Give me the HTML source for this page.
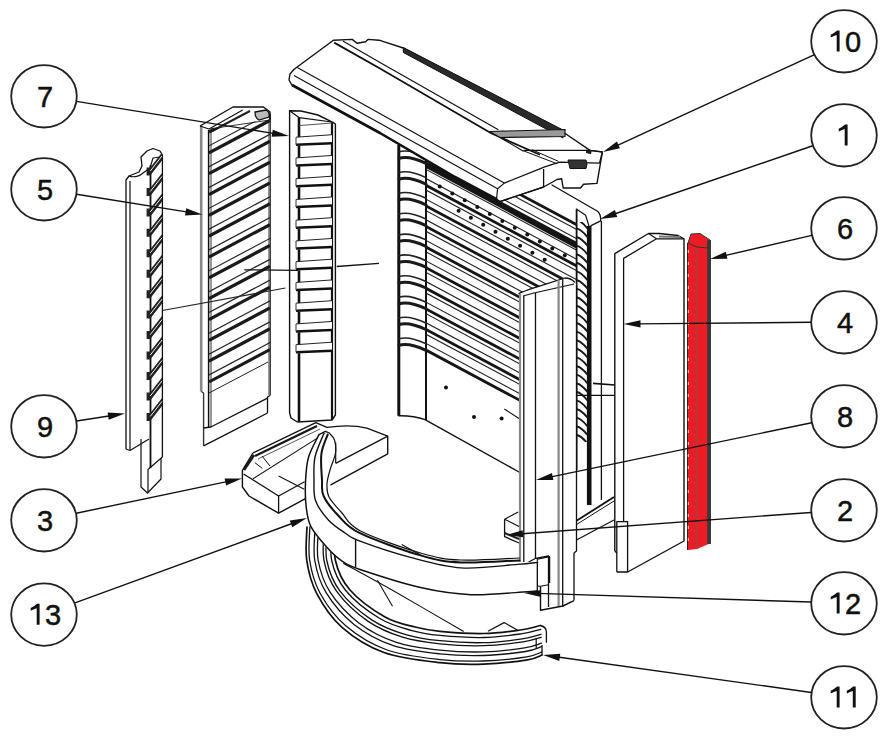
<!DOCTYPE html>
<html><head><meta charset="utf-8"><style>
html,body{margin:0;padding:0;background:#fff;width:892px;height:751px;overflow:hidden}
svg{display:block;font-family:"Liberation Sans",sans-serif}
</style></head><body>
<svg width="892" height="751" viewBox="0 0 892 751">
<polygon points="688,243 691,234 700,233.5 710,240 711,543 697,549 688,550" fill="#ec1c24"/>
<line x1="709.1" y1="240" x2="709.1" y2="544" stroke="#3a3a3a" stroke-width="3.8"/>
<line x1="696.6" y1="247" x2="696.6" y2="549" stroke="#b03a3c" stroke-width="2.2"/>
<line x1="687.5" y1="243" x2="687.5" y2="550" stroke="#222" stroke-width="1.0"/>
<polyline points="688,243 691,234 700,233.5 710,240 708,248 697,247 688,243" fill="none" stroke="#333" stroke-width="1.0" stroke-linejoin="round"/>
<line x1="688.3" y1="250" x2="688.3" y2="548" stroke="#fff" stroke-width="0.8" stroke-dasharray="3,9"/>
<polyline points="614.8,551 614.8,253.6 648.5,233.5 659,233.5 678,235.5 684,238.8 684,541 627.6,572" fill="none" stroke="#111" stroke-width="1.4" stroke-linejoin="round"/>
<polyline points="623.6,521 623.6,258.4 656.5,238.8 684,238.8" fill="none" stroke="#111" stroke-width="1.3" stroke-linejoin="round"/>
<line x1="648.5" y1="233.5" x2="656.5" y2="238.8" stroke="#111" stroke-width="1.2"/>
<line x1="659" y1="236.5" x2="680" y2="237" stroke="#777" stroke-width="1.8"/>
<polyline points="616.8,572 616.8,521.6 627.6,521.6 627.6,572 616.8,572" fill="none" stroke="#111" stroke-width="1.3" stroke-linejoin="round"/>
<line x1="614.8" y1="551" x2="616.8" y2="553" stroke="#111" stroke-width="1.2"/>
<polyline points="126,449 126,180 129,176 139,172 142,166 141,157 147,151 153,148.5 160,151 162.4,155 162.4,457" fill="none" stroke="#111" stroke-width="1.3" stroke-linejoin="round"/>
<line x1="130" y1="181" x2="130" y2="450" stroke="#111" stroke-width="1.2"/>
<polyline points="126,449 130,450.5 149,439" fill="none" stroke="#111" stroke-width="1.2" stroke-linejoin="round"/>
<path d="M129,176 C134,178 140,176 143,173 L150,168 L153,158 L160,157 L162,160" fill="none" stroke="#111" stroke-width="1.1" stroke-linejoin="round" stroke-linecap="round"/>
<line x1="150.5" y1="165" x2="150.5" y2="468" stroke="#111" stroke-width="1.8"/>
<polyline points="141,439 141,487 147.5,493 161,479 161,458" fill="none" stroke="#111" stroke-width="1.2" stroke-linejoin="round"/>
<polyline points="162.4,457 148,469.5 148,493" fill="none" stroke="#111" stroke-width="1.2" stroke-linejoin="round"/>
<polygon points="146.6,175.5 146.6,167.5 150.3,167.5 162,152.5 162,160.5 150.3,175.5" fill="#222"/>
<line x1="150.3" y1="171.0" x2="162" y2="156.0" stroke="#eee" stroke-width="1.0"/>
<polygon points="146.6,195.9 146.6,187.9 150.3,187.9 162,172.9 162,180.9 150.3,195.9" fill="#222"/>
<line x1="150.3" y1="191.45" x2="162" y2="176.45" stroke="#eee" stroke-width="1.0"/>
<polygon points="146.6,216.4 146.6,208.4 150.3,208.4 162,193.4 162,201.4 150.3,216.4" fill="#222"/>
<line x1="150.3" y1="211.9" x2="162" y2="196.9" stroke="#eee" stroke-width="1.0"/>
<polygon points="146.6,236.8 146.6,228.8 150.3,228.8 162,213.8 162,221.8 150.3,236.8" fill="#222"/>
<line x1="150.3" y1="232.35" x2="162" y2="217.35" stroke="#eee" stroke-width="1.0"/>
<polygon points="146.6,257.3 146.6,249.3 150.3,249.3 162,234.3 162,242.3 150.3,257.3" fill="#222"/>
<line x1="150.3" y1="252.8" x2="162" y2="237.8" stroke="#eee" stroke-width="1.0"/>
<polygon points="146.6,277.8 146.6,269.8 150.3,269.8 162,254.8 162,262.8 150.3,277.8" fill="#222"/>
<line x1="150.3" y1="273.25" x2="162" y2="258.25" stroke="#eee" stroke-width="1.0"/>
<polygon points="146.6,298.2 146.6,290.2 150.3,290.2 162,275.2 162,283.2 150.3,298.2" fill="#222"/>
<line x1="150.3" y1="293.7" x2="162" y2="278.7" stroke="#eee" stroke-width="1.0"/>
<polygon points="146.6,318.6 146.6,310.6 150.3,310.6 162,295.6 162,303.6 150.3,318.6" fill="#222"/>
<line x1="150.3" y1="314.15" x2="162" y2="299.15" stroke="#eee" stroke-width="1.0"/>
<polygon points="146.6,339.1 146.6,331.1 150.3,331.1 162,316.1 162,324.1 150.3,339.1" fill="#222"/>
<line x1="150.3" y1="334.6" x2="162" y2="319.6" stroke="#eee" stroke-width="1.0"/>
<polygon points="146.6,359.5 146.6,351.5 150.3,351.5 162,336.5 162,344.5 150.3,359.5" fill="#222"/>
<line x1="150.3" y1="355.04999999999995" x2="162" y2="340.04999999999995" stroke="#eee" stroke-width="1.0"/>
<polygon points="146.6,380.0 146.6,372.0 150.3,372.0 162,357.0 162,365.0 150.3,380.0" fill="#222"/>
<line x1="150.3" y1="375.5" x2="162" y2="360.5" stroke="#eee" stroke-width="1.0"/>
<polygon points="146.6,400.4 146.6,392.4 150.3,392.4 162,377.4 162,385.4 150.3,400.4" fill="#222"/>
<line x1="150.3" y1="395.95" x2="162" y2="380.95" stroke="#eee" stroke-width="1.0"/>
<polygon points="146.6,420.9 146.6,412.9 150.3,412.9 162,397.9 162,405.9 150.3,420.9" fill="#222"/>
<line x1="150.3" y1="416.4" x2="162" y2="401.4" stroke="#eee" stroke-width="1.0"/>
<line x1="201.2" y1="126" x2="201.2" y2="391.5" stroke="#888" stroke-width="2.6"/>
<line x1="208.6" y1="130" x2="208.6" y2="427" stroke="#111" stroke-width="1.5"/>
<line x1="211" y1="131" x2="211" y2="427" stroke="#999" stroke-width="2.0"/>
<line x1="270" y1="114" x2="270" y2="395.5" stroke="#111" stroke-width="1.6"/>
<line x1="268.8" y1="120" x2="268.8" y2="395" stroke="#999" stroke-width="1.6"/>
<polyline points="201.2,391.5 203.6,393 203.6,445.8" fill="none" stroke="#333" stroke-width="1.4" stroke-linejoin="round"/>
<polyline points="270,395.5 267.5,397 267.5,413" fill="none" stroke="#111" stroke-width="1.3" stroke-linejoin="round"/>
<polyline points="203.6,445.8 267.5,413" fill="none" stroke="#111" stroke-width="1.3" stroke-linejoin="round"/>
<polyline points="203.6,428 210.8,427 268,397.9" fill="none" stroke="#111" stroke-width="1.3" stroke-linejoin="round"/>
<polyline points="200,126 233,107 263.5,107 270,112 270,120" fill="none" stroke="#111" stroke-width="1.4" stroke-linejoin="round"/>
<polyline points="200,126 209,129 242.7,110" fill="none" stroke="#111" stroke-width="1.2" stroke-linejoin="round"/>
<polyline points="212,131 250,111" fill="none" stroke="#222" stroke-width="2.0" stroke-linejoin="round"/>
<polyline points="209,129 270,120" fill="none" stroke="#333" stroke-width="1.0" stroke-linejoin="round"/>
<path d="M255,112 L266,110 Q270,112 269,117 L259,120 Q255,118 255,112 Z" fill="#bbb" stroke="#111" stroke-width="1.3"/>
<clipPath id="c5"><polygon points="209,129 270,119 270,395 209,427"/></clipPath><g clip-path="url(#c5)">
<line x1="209" y1="132.0" x2="270" y2="99.6" stroke="#1a1a1a" stroke-width="3.2"/>
<line x1="209" y1="152.82999999999998" x2="270" y2="120.42999999999998" stroke="#1a1a1a" stroke-width="3.2"/>
<line x1="209" y1="145.82999999999998" x2="270" y2="113.42999999999998" stroke="#222" stroke-width="1.2"/>
<line x1="209" y1="173.66" x2="270" y2="141.26" stroke="#1a1a1a" stroke-width="3.2"/>
<line x1="209" y1="166.66" x2="270" y2="134.26" stroke="#222" stroke-width="1.2"/>
<line x1="209" y1="194.49" x2="270" y2="162.09" stroke="#1a1a1a" stroke-width="3.2"/>
<line x1="209" y1="187.49" x2="270" y2="155.09" stroke="#222" stroke-width="1.2"/>
<line x1="209" y1="215.32" x2="270" y2="182.92" stroke="#1a1a1a" stroke-width="3.2"/>
<line x1="209" y1="208.32" x2="270" y2="175.92" stroke="#222" stroke-width="1.2"/>
<line x1="209" y1="236.14999999999998" x2="270" y2="203.74999999999997" stroke="#1a1a1a" stroke-width="3.2"/>
<line x1="209" y1="229.14999999999998" x2="270" y2="196.74999999999997" stroke="#222" stroke-width="1.2"/>
<line x1="209" y1="256.98" x2="270" y2="224.58" stroke="#1a1a1a" stroke-width="3.2"/>
<line x1="209" y1="249.98000000000002" x2="270" y2="217.58" stroke="#222" stroke-width="1.2"/>
<line x1="209" y1="277.81" x2="270" y2="245.41" stroke="#1a1a1a" stroke-width="3.2"/>
<line x1="209" y1="270.81" x2="270" y2="238.41" stroke="#222" stroke-width="1.2"/>
<line x1="209" y1="298.64" x2="270" y2="266.24" stroke="#1a1a1a" stroke-width="3.2"/>
<line x1="209" y1="291.64" x2="270" y2="259.24" stroke="#222" stroke-width="1.2"/>
<line x1="209" y1="319.46999999999997" x2="270" y2="287.07" stroke="#1a1a1a" stroke-width="3.2"/>
<line x1="209" y1="312.46999999999997" x2="270" y2="280.07" stroke="#222" stroke-width="1.2"/>
<line x1="209" y1="340.29999999999995" x2="270" y2="307.9" stroke="#1a1a1a" stroke-width="3.2"/>
<line x1="209" y1="333.29999999999995" x2="270" y2="300.9" stroke="#222" stroke-width="1.2"/>
<line x1="209" y1="361.13" x2="270" y2="328.73" stroke="#1a1a1a" stroke-width="3.2"/>
<line x1="209" y1="354.13" x2="270" y2="321.73" stroke="#222" stroke-width="1.2"/>
<line x1="209" y1="381.96" x2="270" y2="349.56" stroke="#1a1a1a" stroke-width="3.2"/>
<line x1="209" y1="374.96" x2="270" y2="342.56" stroke="#222" stroke-width="1.2"/>
<line x1="209" y1="393" x2="268" y2="362" stroke="#222" stroke-width="1.0"/>
</g>
<polyline points="297.3,422 291,418 289.6,412.7 289.6,110.7 301,111 318,115 332.8,122.4 335.4,124 335.4,415 332,420 297.3,422" fill="none" stroke="#111" stroke-width="1.4" stroke-linejoin="round"/>
<line x1="299" y1="117.6" x2="299" y2="422" stroke="#111" stroke-width="2.6"/>
<line x1="332" y1="122" x2="332" y2="420" stroke="#111" stroke-width="2.2"/>
<polyline points="289.6,110.7 299,117.6 332,122" fill="none" stroke="#111" stroke-width="1.2" stroke-linejoin="round"/>
<line x1="299" y1="125.6" x2="332" y2="123" stroke="#555" stroke-width="1.0"/>
<polygon points="296,137.2 332,134.7 332,143.7 296,145.9" fill="#fff" stroke="none"/>
<line x1="296" y1="137.2" x2="332" y2="134.7" stroke="#222" stroke-width="1.0"/>
<line x1="296" y1="144.7" x2="332" y2="143.2" stroke="#111" stroke-width="2.4"/>
<line x1="296" y1="137.2" x2="296" y2="144.7" stroke="#555" stroke-width="1.2"/>
<polygon points="296,157.9 332,155.4 332,164.4 296,166.6" fill="#fff" stroke="none"/>
<line x1="296" y1="157.95" x2="332" y2="155.45" stroke="#222" stroke-width="1.0"/>
<line x1="296" y1="165.45" x2="332" y2="163.95" stroke="#111" stroke-width="2.4"/>
<line x1="296" y1="157.95" x2="296" y2="165.45" stroke="#555" stroke-width="1.2"/>
<polygon points="296,178.7 332,176.2 332,185.2 296,187.4" fill="#fff" stroke="none"/>
<line x1="296" y1="178.7" x2="332" y2="176.2" stroke="#222" stroke-width="1.0"/>
<line x1="296" y1="186.2" x2="332" y2="184.7" stroke="#111" stroke-width="2.4"/>
<line x1="296" y1="178.7" x2="296" y2="186.2" stroke="#555" stroke-width="1.2"/>
<polygon points="296,199.4 332,196.9 332,205.9 296,208.1" fill="#fff" stroke="none"/>
<line x1="296" y1="199.45" x2="332" y2="196.95" stroke="#222" stroke-width="1.0"/>
<line x1="296" y1="206.95" x2="332" y2="205.45" stroke="#111" stroke-width="2.4"/>
<line x1="296" y1="199.45" x2="296" y2="206.95" stroke="#555" stroke-width="1.2"/>
<polygon points="296,220.2 332,217.7 332,226.7 296,228.9" fill="#fff" stroke="none"/>
<line x1="296" y1="220.2" x2="332" y2="217.7" stroke="#222" stroke-width="1.0"/>
<line x1="296" y1="227.7" x2="332" y2="226.2" stroke="#111" stroke-width="2.4"/>
<line x1="296" y1="220.2" x2="296" y2="227.7" stroke="#555" stroke-width="1.2"/>
<polygon points="296,240.9 332,238.4 332,247.4 296,249.6" fill="#fff" stroke="none"/>
<line x1="296" y1="240.95" x2="332" y2="238.45" stroke="#222" stroke-width="1.0"/>
<line x1="296" y1="248.45" x2="332" y2="246.95" stroke="#111" stroke-width="2.4"/>
<line x1="296" y1="240.95" x2="296" y2="248.45" stroke="#555" stroke-width="1.2"/>
<polygon points="296,261.7 332,259.2 332,268.2 296,270.4" fill="#fff" stroke="none"/>
<line x1="296" y1="261.7" x2="332" y2="259.2" stroke="#222" stroke-width="1.0"/>
<line x1="296" y1="269.2" x2="332" y2="267.7" stroke="#111" stroke-width="2.4"/>
<line x1="296" y1="261.7" x2="296" y2="269.2" stroke="#555" stroke-width="1.2"/>
<polygon points="296,282.4 332,279.9 332,288.9 296,291.1" fill="#fff" stroke="none"/>
<line x1="296" y1="282.45" x2="332" y2="279.95" stroke="#222" stroke-width="1.0"/>
<line x1="296" y1="289.95" x2="332" y2="288.45" stroke="#111" stroke-width="2.4"/>
<line x1="296" y1="282.45" x2="296" y2="289.95" stroke="#555" stroke-width="1.2"/>
<polygon points="296,303.2 332,300.7 332,309.7 296,311.9" fill="#fff" stroke="none"/>
<line x1="296" y1="303.2" x2="332" y2="300.7" stroke="#222" stroke-width="1.0"/>
<line x1="296" y1="310.7" x2="332" y2="309.2" stroke="#111" stroke-width="2.4"/>
<line x1="296" y1="303.2" x2="296" y2="310.7" stroke="#555" stroke-width="1.2"/>
<polygon points="296,323.9 332,321.4 332,330.4 296,332.6" fill="#fff" stroke="none"/>
<line x1="296" y1="323.95" x2="332" y2="321.45" stroke="#222" stroke-width="1.0"/>
<line x1="296" y1="331.45" x2="332" y2="329.95" stroke="#111" stroke-width="2.4"/>
<line x1="296" y1="323.95" x2="296" y2="331.45" stroke="#555" stroke-width="1.2"/>
<polygon points="296,344.7 332,342.2 332,351.2 296,353.4" fill="#fff" stroke="none"/>
<line x1="296" y1="344.7" x2="332" y2="342.2" stroke="#222" stroke-width="1.0"/>
<line x1="296" y1="352.2" x2="332" y2="350.7" stroke="#111" stroke-width="2.4"/>
<line x1="296" y1="344.7" x2="296" y2="352.2" stroke="#555" stroke-width="1.2"/>
<polyline points="398.8,145 398.8,415.7" fill="none" stroke="#111" stroke-width="3.0" stroke-linejoin="round"/>
<path d="M398.8,415.7 Q414,415.5 425,419.7 L519,472" fill="none" stroke="#111" stroke-width="1.4" stroke-linejoin="round" stroke-linecap="round"/>
<line x1="426" y1="160" x2="426" y2="420" stroke="#111" stroke-width="2.0"/>
<path d="M399,137.5 Q409,134.5 426,142.5" fill="none" stroke="#1a1a1a" stroke-width="3.0" stroke-linejoin="round" stroke-linecap="round"/>
<path d="M399,131.0 Q409,128.0 426,136.0" fill="none" stroke="#222" stroke-width="1.6" stroke-linejoin="round" stroke-linecap="round"/>
<path d="M399,158.3 Q409,155.3 426,163.3" fill="none" stroke="#1a1a1a" stroke-width="3.0" stroke-linejoin="round" stroke-linecap="round"/>
<path d="M399,151.8 Q409,148.8 426,156.8" fill="none" stroke="#222" stroke-width="1.6" stroke-linejoin="round" stroke-linecap="round"/>
<path d="M399,179.1 Q409,176.1 426,184.1" fill="none" stroke="#1a1a1a" stroke-width="3.0" stroke-linejoin="round" stroke-linecap="round"/>
<path d="M399,172.6 Q409,169.6 426,177.6" fill="none" stroke="#222" stroke-width="1.6" stroke-linejoin="round" stroke-linecap="round"/>
<path d="M399,199.8 Q409,196.8 426,204.8" fill="none" stroke="#1a1a1a" stroke-width="3.0" stroke-linejoin="round" stroke-linecap="round"/>
<path d="M399,193.3 Q409,190.3 426,198.3" fill="none" stroke="#222" stroke-width="1.6" stroke-linejoin="round" stroke-linecap="round"/>
<path d="M399,220.6 Q409,217.6 426,225.6" fill="none" stroke="#1a1a1a" stroke-width="3.0" stroke-linejoin="round" stroke-linecap="round"/>
<path d="M399,214.1 Q409,211.1 426,219.1" fill="none" stroke="#222" stroke-width="1.6" stroke-linejoin="round" stroke-linecap="round"/>
<path d="M399,241.4 Q409,238.4 426,246.4" fill="none" stroke="#1a1a1a" stroke-width="3.0" stroke-linejoin="round" stroke-linecap="round"/>
<path d="M399,234.9 Q409,231.9 426,239.9" fill="none" stroke="#222" stroke-width="1.6" stroke-linejoin="round" stroke-linecap="round"/>
<path d="M399,262.2 Q409,259.2 426,267.2" fill="none" stroke="#1a1a1a" stroke-width="3.0" stroke-linejoin="round" stroke-linecap="round"/>
<path d="M399,255.7 Q409,252.7 426,260.7" fill="none" stroke="#222" stroke-width="1.6" stroke-linejoin="round" stroke-linecap="round"/>
<path d="M399,283.0 Q409,280.0 426,288.0" fill="none" stroke="#1a1a1a" stroke-width="3.0" stroke-linejoin="round" stroke-linecap="round"/>
<path d="M399,276.5 Q409,273.5 426,281.5" fill="none" stroke="#222" stroke-width="1.6" stroke-linejoin="round" stroke-linecap="round"/>
<path d="M399,303.7 Q409,300.7 426,308.7" fill="none" stroke="#1a1a1a" stroke-width="3.0" stroke-linejoin="round" stroke-linecap="round"/>
<path d="M399,297.2 Q409,294.2 426,302.2" fill="none" stroke="#222" stroke-width="1.6" stroke-linejoin="round" stroke-linecap="round"/>
<path d="M399,324.5 Q409,321.5 426,329.5" fill="none" stroke="#1a1a1a" stroke-width="3.0" stroke-linejoin="round" stroke-linecap="round"/>
<path d="M399,318.0 Q409,315.0 426,323.0" fill="none" stroke="#222" stroke-width="1.6" stroke-linejoin="round" stroke-linecap="round"/>
<path d="M399,345.3 Q409,342.3 426,350.3" fill="none" stroke="#1a1a1a" stroke-width="3.0" stroke-linejoin="round" stroke-linecap="round"/>
<path d="M399,338.8 Q409,335.8 426,343.8" fill="none" stroke="#222" stroke-width="1.6" stroke-linejoin="round" stroke-linecap="round"/>
<clipPath id="cb"><polygon points="426,161 497,199.5 543.6,187 552,185 577,199 577,470 519,440 519,402 426,352.5"/></clipPath><g clip-path="url(#cb)">
<line x1="426" y1="144.1" x2="600" y2="237.19" stroke="#151515" stroke-width="2.8"/>
<line x1="426" y1="148.9" x2="600" y2="241.99" stroke="#222" stroke-width="1.1"/>
<line x1="426" y1="158.0" x2="600" y2="251.09" stroke="#222" stroke-width="1.1"/>
<line x1="426" y1="164.7" x2="600" y2="257.78999999999996" stroke="#151515" stroke-width="6.0"/>
<line x1="426" y1="169.5" x2="600" y2="262.59000000000003" stroke="#222" stroke-width="1.1"/>
<line x1="426" y1="178.6" x2="600" y2="271.69" stroke="#222" stroke-width="1.1"/>
<line x1="426" y1="185.29999999999998" x2="600" y2="278.39" stroke="#151515" stroke-width="2.8"/>
<line x1="426" y1="190.1" x2="600" y2="283.19" stroke="#222" stroke-width="1.1"/>
<line x1="426" y1="199.2" x2="600" y2="292.28999999999996" stroke="#222" stroke-width="1.1"/>
<line x1="426" y1="205.89999999999998" x2="600" y2="298.99" stroke="#151515" stroke-width="2.8"/>
<line x1="426" y1="210.7" x2="600" y2="303.78999999999996" stroke="#222" stroke-width="1.1"/>
<line x1="426" y1="219.79999999999998" x2="600" y2="312.89" stroke="#222" stroke-width="1.1"/>
<line x1="426" y1="226.5" x2="600" y2="319.59000000000003" stroke="#151515" stroke-width="2.8"/>
<line x1="426" y1="231.3" x2="600" y2="324.39" stroke="#222" stroke-width="1.1"/>
<line x1="426" y1="240.4" x2="600" y2="333.49" stroke="#222" stroke-width="1.1"/>
<line x1="426" y1="247.1" x2="600" y2="340.19" stroke="#151515" stroke-width="2.8"/>
<line x1="426" y1="251.9" x2="600" y2="344.99" stroke="#222" stroke-width="1.1"/>
<line x1="426" y1="261.0" x2="600" y2="354.09000000000003" stroke="#222" stroke-width="1.1"/>
<line x1="426" y1="267.7" x2="600" y2="360.78999999999996" stroke="#151515" stroke-width="2.8"/>
<line x1="426" y1="272.5" x2="600" y2="365.59000000000003" stroke="#222" stroke-width="1.1"/>
<line x1="426" y1="281.59999999999997" x2="600" y2="374.68999999999994" stroke="#222" stroke-width="1.1"/>
<line x1="426" y1="288.3" x2="600" y2="381.39" stroke="#151515" stroke-width="2.8"/>
<line x1="426" y1="293.1" x2="600" y2="386.19000000000005" stroke="#222" stroke-width="1.1"/>
<line x1="426" y1="302.2" x2="600" y2="395.28999999999996" stroke="#222" stroke-width="1.1"/>
<line x1="426" y1="308.9" x2="600" y2="401.99" stroke="#151515" stroke-width="2.8"/>
<line x1="426" y1="313.7" x2="600" y2="406.78999999999996" stroke="#222" stroke-width="1.1"/>
<line x1="426" y1="322.79999999999995" x2="600" y2="415.89" stroke="#222" stroke-width="1.1"/>
<line x1="426" y1="329.5" x2="600" y2="422.59000000000003" stroke="#151515" stroke-width="2.8"/>
<line x1="426" y1="334.3" x2="600" y2="427.39" stroke="#222" stroke-width="1.1"/>
<line x1="426" y1="343.4" x2="600" y2="436.49" stroke="#222" stroke-width="1.1"/>
<line x1="426" y1="350.1" x2="600" y2="443.19000000000005" stroke="#151515" stroke-width="2.8"/>
<line x1="426" y1="354.90000000000003" x2="600" y2="447.99" stroke="#222" stroke-width="1.1"/>
<line x1="426" y1="364.0" x2="600" y2="457.09000000000003" stroke="#222" stroke-width="1.1"/>
</g>
<circle cx="439.8" cy="186.5" r="2.0" fill="#111"/>
<circle cx="452.3" cy="193.4" r="2.0" fill="#111"/>
<circle cx="464.8" cy="200.2" r="2.0" fill="#111"/>
<circle cx="477.3" cy="207.1" r="2.0" fill="#111"/>
<circle cx="489.8" cy="214.0" r="2.0" fill="#111"/>
<circle cx="502.3" cy="220.9" r="2.0" fill="#111"/>
<circle cx="514.8" cy="227.7" r="2.0" fill="#111"/>
<circle cx="527.3" cy="234.6" r="2.0" fill="#111"/>
<circle cx="539.8" cy="241.5" r="2.0" fill="#111"/>
<circle cx="552.3" cy="248.4" r="2.0" fill="#111"/>
<circle cx="564.8" cy="255.2" r="2.0" fill="#111"/>
<circle cx="458.6" cy="210.7" r="2.0" fill="#111"/>
<circle cx="470.9" cy="217.7" r="2.0" fill="#111"/>
<circle cx="483.2" cy="224.7" r="2.0" fill="#111"/>
<circle cx="495.5" cy="231.7" r="2.0" fill="#111"/>
<circle cx="507.8" cy="238.7" r="2.0" fill="#111"/>
<circle cx="520.1" cy="245.8" r="2.0" fill="#111"/>
<circle cx="532.4" cy="252.8" r="2.0" fill="#111"/>
<circle cx="544.7" cy="259.8" r="2.0" fill="#111"/>
<circle cx="446" cy="387.4" r="2" fill="#111"/>
<circle cx="474" cy="417" r="2" fill="#111"/>
<circle cx="501.6" cy="418.4" r="2" fill="#111"/>
<line x1="504.3" y1="409" x2="519" y2="418.4" stroke="#111" stroke-width="1.2"/>
<line x1="576.6" y1="209.6" x2="576.6" y2="470" stroke="#111" stroke-width="1.8"/>
<line x1="589.2" y1="226" x2="589.2" y2="505" stroke="#111" stroke-width="4.6"/>
<polyline points="576,208.8 585.6,215.2 589,226" fill="none" stroke="#111" stroke-width="1.2" stroke-linejoin="round"/>
<path d="M552,185 L597.5,211.2 Q601,214 600.7,220.8 L591,225.6" fill="none" stroke="#111" stroke-width="1.3" stroke-linejoin="round" stroke-linecap="round"/>
<line x1="601.4" y1="221" x2="601.4" y2="500" stroke="#111" stroke-width="1.3"/>
<clipPath id="cr"><rect x="577" y="222" width="12" height="220"/></clipPath><g clip-path="url(#cr)">
<path d="M577,220.0 Q582,221.5 587,228.0" fill="none" stroke="#1a1a1a" stroke-width="1.9" stroke-linejoin="round" stroke-linecap="round"/>
<path d="M577,228.6 Q582,230.1 587,236.6" fill="none" stroke="#1a1a1a" stroke-width="1.9" stroke-linejoin="round" stroke-linecap="round"/>
<path d="M577,237.2 Q582,238.7 587,245.2" fill="none" stroke="#1a1a1a" stroke-width="1.9" stroke-linejoin="round" stroke-linecap="round"/>
<path d="M577,245.8 Q582,247.3 587,253.8" fill="none" stroke="#1a1a1a" stroke-width="1.9" stroke-linejoin="round" stroke-linecap="round"/>
<path d="M577,254.4 Q582,255.9 587,262.4" fill="none" stroke="#1a1a1a" stroke-width="1.9" stroke-linejoin="round" stroke-linecap="round"/>
<path d="M577,263.0 Q582,264.5 587,271.0" fill="none" stroke="#1a1a1a" stroke-width="1.9" stroke-linejoin="round" stroke-linecap="round"/>
<path d="M577,271.6 Q582,273.1 587,279.6" fill="none" stroke="#1a1a1a" stroke-width="1.9" stroke-linejoin="round" stroke-linecap="round"/>
<path d="M577,280.2 Q582,281.7 587,288.2" fill="none" stroke="#1a1a1a" stroke-width="1.9" stroke-linejoin="round" stroke-linecap="round"/>
<path d="M577,288.8 Q582,290.3 587,296.8" fill="none" stroke="#1a1a1a" stroke-width="1.9" stroke-linejoin="round" stroke-linecap="round"/>
<path d="M577,297.4 Q582,298.9 587,305.4" fill="none" stroke="#1a1a1a" stroke-width="1.9" stroke-linejoin="round" stroke-linecap="round"/>
<path d="M577,306.0 Q582,307.5 587,314.0" fill="none" stroke="#1a1a1a" stroke-width="1.9" stroke-linejoin="round" stroke-linecap="round"/>
<path d="M577,314.6 Q582,316.1 587,322.6" fill="none" stroke="#1a1a1a" stroke-width="1.9" stroke-linejoin="round" stroke-linecap="round"/>
<path d="M577,323.2 Q582,324.7 587,331.2" fill="none" stroke="#1a1a1a" stroke-width="1.9" stroke-linejoin="round" stroke-linecap="round"/>
<path d="M577,331.8 Q582,333.3 587,339.8" fill="none" stroke="#1a1a1a" stroke-width="1.9" stroke-linejoin="round" stroke-linecap="round"/>
<path d="M577,340.4 Q582,341.9 587,348.4" fill="none" stroke="#1a1a1a" stroke-width="1.9" stroke-linejoin="round" stroke-linecap="round"/>
<path d="M577,349.0 Q582,350.5 587,357.0" fill="none" stroke="#1a1a1a" stroke-width="1.9" stroke-linejoin="round" stroke-linecap="round"/>
<path d="M577,357.6 Q582,359.1 587,365.6" fill="none" stroke="#1a1a1a" stroke-width="1.9" stroke-linejoin="round" stroke-linecap="round"/>
<path d="M577,366.2 Q582,367.7 587,374.2" fill="none" stroke="#1a1a1a" stroke-width="1.9" stroke-linejoin="round" stroke-linecap="round"/>
<path d="M577,374.8 Q582,376.3 587,382.8" fill="none" stroke="#1a1a1a" stroke-width="1.9" stroke-linejoin="round" stroke-linecap="round"/>
<path d="M577,383.4 Q582,384.9 587,391.4" fill="none" stroke="#1a1a1a" stroke-width="1.9" stroke-linejoin="round" stroke-linecap="round"/>
<path d="M577,392.0 Q582,393.5 587,400.0" fill="none" stroke="#1a1a1a" stroke-width="1.9" stroke-linejoin="round" stroke-linecap="round"/>
<path d="M577,400.6 Q582,402.1 587,408.6" fill="none" stroke="#1a1a1a" stroke-width="1.9" stroke-linejoin="round" stroke-linecap="round"/>
<path d="M577,409.2 Q582,410.7 587,417.2" fill="none" stroke="#1a1a1a" stroke-width="1.9" stroke-linejoin="round" stroke-linecap="round"/>
<path d="M577,417.8 Q582,419.3 587,425.8" fill="none" stroke="#1a1a1a" stroke-width="1.9" stroke-linejoin="round" stroke-linecap="round"/>
<path d="M577,426.4 Q582,427.9 587,434.4" fill="none" stroke="#1a1a1a" stroke-width="1.9" stroke-linejoin="round" stroke-linecap="round"/>
<path d="M577,435.0 Q582,436.5 587,443.0" fill="none" stroke="#1a1a1a" stroke-width="1.9" stroke-linejoin="round" stroke-linecap="round"/>
<path d="M577,443.6 Q582,445.1 587,451.6" fill="none" stroke="#1a1a1a" stroke-width="1.9" stroke-linejoin="round" stroke-linecap="round"/>
</g>
<polyline points="593,383.4 615,385" fill="none" stroke="#111" stroke-width="1.6" stroke-linejoin="round"/>
<polyline points="577,395.4 615,395.4" fill="none" stroke="#111" stroke-width="1.2" stroke-linejoin="round"/>
<polygon points="333.4,40.2 352.2,39.4 357,43.3 365.6,41.8 368,39.4 379,40.2 403.3,48 563,132 590,150.4 602.4,152 597,183.4 583.6,184.2 580.5,188 563.2,188 561.6,178.7 557,179.5 543.6,187 499.8,201.6 497,199.5 455,177 380,133 291.8,85 289,80 290,74 294.1,69.2" fill="#fff" stroke="#111" stroke-width="1.4" stroke-linejoin="round"/>
<polyline points="292,85 380,133 455,177 497,199.5" fill="none" stroke="#111" stroke-width="2.6" stroke-linejoin="round"/>
<polyline points="294,75.5 497.6,188.7 496.5,199.3 499.8,201.6" fill="none" stroke="#111" stroke-width="1.2" stroke-linejoin="round"/>
<polyline points="297.3,67.5 504.3,183.1 497.6,188.7" fill="none" stroke="#111" stroke-width="1.2" stroke-linejoin="round"/>
<polyline points="334.2,42.6 380,68.5 491.2,133.3 540,154.8" fill="none" stroke="#111" stroke-width="1.8" stroke-linejoin="round"/>
<polyline points="342.8,41 380,62.4 498.4,129.7" fill="none" stroke="#111" stroke-width="1.2" stroke-linejoin="round"/>
<polygon points="403.3,47.5 563,130 563,138 403.3,52.5" fill="#2a2a2a" stroke="#111" stroke-width="1"/>
<polygon points="489.4,131.5 565,129.5 565,136.5 500,137.5" fill="#999" stroke="#111" stroke-width="1.2"/>
<polyline points="500,137.5 523.5,151.2" fill="none" stroke="#111" stroke-width="1.2" stroke-linejoin="round"/>
<polygon points="586,149.8 591.6,151 591,154.2 586,153" fill="#222"/>
<polyline points="504.3,183.1 544.7,166.8 552.4,164.3 560,162.2 599.5,163.2 602.4,152" fill="none" stroke="#111" stroke-width="1.3" stroke-linejoin="round"/>
<polyline points="499.8,201.6 543.6,187 543.6,169" fill="none" stroke="#111" stroke-width="1.3" stroke-linejoin="round"/>
<polyline points="524,150.4 590,150.4 602.4,152" fill="none" stroke="#111" stroke-width="1.2" stroke-linejoin="round"/>
<polyline points="522.4,150.4 557,163.7" fill="none" stroke="#111" stroke-width="1.0" stroke-linejoin="round"/>
<polyline points="531.8,149.6 558.5,161.4" fill="none" stroke="#111" stroke-width="1.0" stroke-linejoin="round"/>
<path d="M568,160 L586,160 Q588,164 586,168.5 L570,168.5 Z" fill="#333" stroke="#111" stroke-width="1"/>
<polygon points="519,293.4 538,286.7 564.8,278 574.4,282 576.5,285 576.5,551 574,553 574,600.6 562.9,606 540.5,610.2 540.5,586.3 537.3,586 537.3,558.3 523.8,564.7 519.8,564.7" fill="#fff" stroke="none"/>
<path d="M519,293.4 Q530,289 538,286.7 L564.8,278 Q571,278 574.4,282" fill="none" stroke="#111" stroke-width="1.3" stroke-linejoin="round" stroke-linecap="round"/>
<polyline points="523,296 534,293 574,284" fill="none" stroke="#111" stroke-width="1.2" stroke-linejoin="round"/>
<line x1="520" y1="294" x2="520" y2="564.7" stroke="#888" stroke-width="2.2"/>
<line x1="523.8" y1="296" x2="523.8" y2="564.7" stroke="#111" stroke-width="1.3"/>
<line x1="535.5" y1="293" x2="535.5" y2="558.3" stroke="#111" stroke-width="1.3"/>
<line x1="558.6" y1="280" x2="558.6" y2="607" stroke="#888" stroke-width="2.2"/>
<line x1="562.7" y1="279" x2="562.7" y2="607" stroke="#111" stroke-width="1.3"/>
<polyline points="576.5,285 576.5,551 574,553 574,600.6" fill="none" stroke="#111" stroke-width="1.3" stroke-linejoin="round"/>
<polyline points="519.8,564.7 523.8,564.7 535.7,558.3 548.5,556 548.5,607" fill="none" stroke="#111" stroke-width="1.3" stroke-linejoin="round"/>
<line x1="537.3" y1="558.3" x2="537.3" y2="586" stroke="#111" stroke-width="1.1"/>
<polyline points="537.3,586 540.5,586.3 548.5,584.7" fill="none" stroke="#111" stroke-width="1.1" stroke-linejoin="round"/>
<polyline points="540.5,586.3 540.5,610.2 562.9,606 574,600.6" fill="none" stroke="#111" stroke-width="1.4" stroke-linejoin="round"/>
<line x1="576.5" y1="520.8" x2="614" y2="497" stroke="#111" stroke-width="1.8"/>
<line x1="576.5" y1="524.5" x2="614" y2="501" stroke="#111" stroke-width="1.0"/>
<line x1="576.5" y1="540" x2="614" y2="520" stroke="#111" stroke-width="1.3"/>
<polyline points="504.6,519.2 518.2,512" fill="none" stroke="#111" stroke-width="1.2" stroke-linejoin="round"/>
<polyline points="504.6,519.2 504.6,536.7 519,543" fill="none" stroke="#111" stroke-width="1.3" stroke-linejoin="round"/>
<polyline points="504.6,519.2 519,526.4" fill="none" stroke="#111" stroke-width="1.1" stroke-linejoin="round"/>
<polyline points="504.6,533 519,539" fill="none" stroke="#222" stroke-width="2.0" stroke-linejoin="round"/>
<polygon points="242.4,470.3 252.9,453 315.8,422.6 327,427.4 366.9,428.2 387.7,436.2 387.7,453.8 278.6,513.2 249,497 242.4,487" fill="#fff" stroke="none"/>
<polyline points="252.9,453 315.8,422.6" fill="none" stroke="#111" stroke-width="1.3" stroke-linejoin="round"/>
<polyline points="255,456 317,426" fill="none" stroke="#1a1a1a" stroke-width="2.4" stroke-linejoin="round"/>
<polyline points="258,459 320,429" fill="none" stroke="#444" stroke-width="0.9" stroke-linejoin="round"/>
<polyline points="252.9,453 242.4,470.3 242.4,487 249,496 278.6,513.2 387.7,453.8 387.7,436.2" fill="none" stroke="#111" stroke-width="1.4" stroke-linejoin="round"/>
<polyline points="254,455 244,470" fill="none" stroke="#1a1a1a" stroke-width="2.6" stroke-linejoin="round"/>
<path d="M315.8,422.6 L327,427.4 Q350,424 366.9,428.2 L387.7,436.2" fill="none" stroke="#111" stroke-width="1.3" stroke-linejoin="round" stroke-linecap="round"/>
<polyline points="278.6,513.2 278.6,496 243.5,474" fill="none" stroke="#111" stroke-width="1.3" stroke-linejoin="round"/>
<polyline points="278.6,496 304.6,481.7" fill="none" stroke="#111" stroke-width="1.3" stroke-linejoin="round"/>
<polyline points="335.7,463.3 387.7,436.2" fill="none" stroke="#111" stroke-width="1.3" stroke-linejoin="round"/>
<polyline points="252.9,478.8 325.3,433.1" fill="none" stroke="#111" stroke-width="1.1" stroke-linejoin="round"/>
<polyline points="254.8,462.6 262.4,468.4" fill="none" stroke="#111" stroke-width="1.0" stroke-linejoin="round"/>
<polyline points="262,456 270,466" fill="none" stroke="#111" stroke-width="1.0" stroke-linejoin="round"/>
<line x1="335.7" y1="442.6" x2="335.7" y2="463.3" stroke="#111" stroke-width="1.2"/>
<line x1="278.6" y1="476" x2="304.3" y2="489.3" stroke="#111" stroke-width="1.1"/>
<path d="M336.0,527.0 C335.9,532.5 333.0,549.5 335.3,560.0 C337.6,570.5 341.7,580.5 350.0,590.0 C358.3,599.5 374.2,610.8 385.0,617.0 C395.8,623.2 405.8,624.6 415.0,627.0 C424.2,629.4 428.6,630.2 440.0,631.3 C451.4,632.4 470.4,633.7 483.7,633.5 C497.0,633.3 510.5,631.3 520.0,630.0 C529.5,628.7 537.2,626.2 540.6,625.5" fill="none" stroke="#111" stroke-width="1.7" stroke-linejoin="round" stroke-linecap="round" />
<path d="M332.2,527.0 C332.1,532.5 329.3,549.4 331.6,560.0 C333.8,570.6 337.7,580.7 345.7,590.5 C353.7,600.2 368.5,611.7 379.4,618.3 C390.3,625.0 400.9,627.5 411.0,630.3 C421.1,633.2 427.9,634.2 440.0,635.4 C452.1,636.6 470.2,637.7 483.7,637.5 C497.2,637.2 511.5,635.2 521.0,633.9 C530.5,632.5 537.5,630.1 540.8,629.3" fill="none" stroke="#111" stroke-width="1.3" stroke-linejoin="round" stroke-linecap="round" />
<path d="M327.3,527.0 C327.2,532.5 324.6,549.3 326.7,560.0 C328.8,570.7 332.5,581.1 340.0,591.1 C347.6,601.1 361.2,612.8 372.1,620.1 C383.0,627.4 394.4,631.2 405.7,634.6 C417.0,638.1 427.0,639.4 440.0,640.7 C453.0,642.1 470.0,643.0 483.7,642.7 C497.4,642.4 512.7,640.3 522.2,638.9 C531.8,637.6 537.9,635.1 541.0,634.3" fill="none" stroke="#111" stroke-width="1.3" stroke-linejoin="round" stroke-linecap="round" />
<path d="M324.4,527.0 C324.3,532.5 321.8,549.3 323.9,560.0 C325.9,570.7 329.4,581.3 336.7,591.4 C344.0,601.6 356.8,613.5 367.8,621.1 C378.8,628.7 390.6,633.4 402.6,637.2 C414.6,641.0 426.5,642.4 440.0,643.9 C453.5,645.3 469.9,646.1 483.7,645.7 C497.5,645.4 513.4,643.3 523.0,641.9 C532.6,640.5 538.1,638.1 541.2,637.3" fill="none" stroke="#111" stroke-width="1.3" stroke-linejoin="round" stroke-linecap="round" />
<path d="M318.6,527.0 C318.5,532.5 316.2,549.1 318.1,560.0 C320.1,570.9 323.2,581.6 330.1,592.2 C336.9,602.7 348.1,614.8 359.2,623.2 C370.3,631.5 382.9,637.8 396.4,642.3 C409.9,646.8 425.4,648.5 440.0,650.1 C454.6,651.7 469.6,652.2 483.7,651.9 C497.8,651.5 514.9,649.3 524.5,647.9 C534.1,646.4 538.6,644.0 541.4,643.2" fill="none" stroke="#111" stroke-width="1.3" stroke-linejoin="round" stroke-linecap="round" />
<path d="M315.1,527.0 C315.1,532.5 312.9,549.1 314.7,560.0 C316.5,570.9 319.5,581.9 326.1,592.6 C332.7,603.3 342.9,615.6 354.0,624.4 C365.1,633.2 378.4,640.4 392.7,645.4 C407.0,650.3 424.8,652.2 440.0,653.9 C455.2,655.6 469.5,655.9 483.7,655.5 C497.9,655.1 515.7,652.9 525.4,651.5 C535.1,650.0 538.9,647.5 541.6,646.7" fill="none" stroke="#111" stroke-width="1.3" stroke-linejoin="round" stroke-linecap="round" />
<path d="M309.9,527.0 C309.8,532.5 307.9,549.0 309.6,560.0 C311.3,571.0 314.0,582.2 320.1,593.2 C326.2,604.3 335.1,616.8 346.3,626.3 C357.5,635.7 371.5,644.4 387.1,650.0 C402.7,655.5 423.9,657.7 440.0,659.6 C456.1,661.4 469.2,661.5 483.7,661.0 C498.2,660.6 517.1,658.3 526.8,656.8 C536.4,655.3 539.3,652.8 541.9,652.0" fill="none" stroke="#111" stroke-width="1.3" stroke-linejoin="round" stroke-linecap="round" />
<path d="M307.0,527.0 C306.9,532.5 305.1,548.9 306.7,560.0 C308.3,571.1 310.9,582.4 316.8,593.6 C322.7,604.8 330.8,617.5 342.0,627.3 C353.2,637.1 367.7,646.6 384.0,652.5 C400.3,658.4 423.4,660.8 440.0,662.7 C456.6,664.6 469.1,664.6 483.7,664.1 C498.3,663.6 517.8,661.3 527.5,659.8 C537.2,658.3 539.6,655.8 542.0,655.0" fill="none" stroke="#111" stroke-width="1.7" stroke-linejoin="round" stroke-linecap="round" />
<polyline points="488,631.3 504.1,622.6 517.3,630" fill="none" stroke="#111" stroke-width="1.2" stroke-linejoin="round"/>
<path d="M540.6,625.5 Q546.4,627 546.4,632 L546.4,642.3" fill="none" stroke="#111" stroke-width="1.3" stroke-linejoin="round" stroke-linecap="round"/>
<polyline points="536.2,638 536.2,648" fill="none" stroke="#111" stroke-width="1.2" stroke-linejoin="round"/>
<polyline points="542,645 542,655.4" fill="none" stroke="#111" stroke-width="1.3" stroke-linejoin="round"/>
<line x1="377.4" y1="580.2" x2="392.5" y2="606.2" stroke="#111" stroke-width="1.1"/>
<path d="M343.7,563.4 C351.8,567.9 372.6,579.0 392.5,590.3 C412.4,601.6 451.5,624.5 463.3,631.3" fill="none" stroke="#111" stroke-width="1.1" stroke-linejoin="round" stroke-linecap="round" />
<path d="M319,434.6 C310,450 305,470 305.6,480 C306,500 306,512 310.8,526.4 C318,540 330,555 355.6,567.2 L420.5,587.6 L471,594.7 L537,592 L537,562 L519,562 L519,558 L460.9,560 L420.5,553 C390,542 360,530 341,512 C325,490 330,470 335.7,444 L329.3,433 Z" fill="#fff" stroke="none"/>
<path d="M319.0,434.6 C317.3,438.3 310.8,449.4 308.6,457.0 C306.4,464.6 306.0,472.0 305.6,480.0 C305.2,488.0 305.1,497.3 306.0,505.0 C306.9,512.7 307.3,519.4 310.8,526.4 C314.3,533.4 321.5,541.3 326.8,547.2 C332.1,553.1 337.3,557.9 342.8,561.6 C348.3,565.3 347.1,565.2 360.0,569.5 C372.9,573.8 402.0,583.4 420.5,587.6 C439.0,591.8 453.2,594.0 471.0,594.7 C488.8,595.4 516.5,592.3 527.5,591.7 C538.5,591.1 535.4,591.1 537.0,591.0" fill="none" stroke="#111" stroke-width="1.5" stroke-linejoin="round" stroke-linecap="round" />
<path d="M323.8,433.8 C322.3,437.7 316.6,449.3 315.0,457.0 C313.4,464.7 313.9,472.7 314.0,480.0 C314.1,487.3 313.2,494.1 315.6,500.8 C318.0,507.5 323.5,514.6 328.4,520.0 C333.3,525.4 339.7,529.5 345.0,533.0 C350.3,536.5 349.1,537.1 360.0,541.2 C370.9,545.3 393.6,553.0 410.4,557.4 C427.2,561.8 443.1,566.7 460.9,567.9 C478.7,569.1 504.6,565.3 517.4,564.4 C530.2,563.5 534.2,562.7 537.6,562.4" fill="none" stroke="#111" stroke-width="1.4" stroke-linejoin="round" stroke-linecap="round" />
<path d="M327.7,434.6 C326.6,437.8 322.3,446.2 321.4,453.8 C320.4,461.4 321.6,473.0 322.0,480.0 C322.4,487.0 320.9,490.1 323.6,496.0 C326.3,501.9 331.9,509.0 338.0,515.2 C344.1,521.4 346.2,526.5 360.0,533.2 C373.8,539.9 403.7,550.5 420.5,555.4 C437.3,560.3 444.4,561.6 460.9,562.4 C477.4,563.2 509.6,560.7 519.4,560.4" fill="none" stroke="#111" stroke-width="2.0" stroke-linejoin="round" stroke-linecap="round" />
<path d="M329.3,433.0 C330.2,434.2 333.5,436.7 334.5,440.0 C335.5,443.3 336.2,448.0 335.5,453.0 C334.8,458.0 331.4,464.8 330.0,470.0 C328.6,475.2 327.2,479.5 327.0,484.0 C326.8,488.5 326.6,492.3 329.0,497.0 C331.4,501.7 336.0,506.4 341.2,512.0 C346.4,517.6 346.8,523.9 360.0,530.7 C373.2,537.5 403.7,548.1 420.5,553.0 C437.3,557.9 444.4,559.2 460.9,560.0 C477.4,560.8 509.6,558.3 519.4,558.0" fill="none" stroke="#111" stroke-width="1.2" stroke-linejoin="round" stroke-linecap="round" />
<polyline points="319,434.6 325.4,431.4 329.3,433" fill="none" stroke="#111" stroke-width="1.2" stroke-linejoin="round"/>
<line x1="355.6" y1="539.2" x2="355.6" y2="567.2" stroke="#111" stroke-width="1.4"/>
<line x1="537.3" y1="563" x2="537.3" y2="592" stroke="#111" stroke-width="1.3"/>
<polyline points="537.3,559.2 549.6,556.7 549.6,583" fill="none" stroke="#111" stroke-width="1.3" stroke-linejoin="round"/>
<line x1="401.7" y1="544.4" x2="421.4" y2="555.5" stroke="#111" stroke-width="1.1"/>
<line x1="244.3" y1="269.8" x2="298" y2="270.3" stroke="#111" stroke-width="1.3"/>
<line x1="336.7" y1="266.5" x2="379" y2="263.3" stroke="#111" stroke-width="1.3"/>
<line x1="162.5" y1="310.5" x2="285.5" y2="288" stroke="#222" stroke-width="1.2"/>
<ellipse cx="44" cy="96.3" rx="32.8" ry="31.2" fill="none" stroke="#222" stroke-width="1.8"/>
<text x="36.9" y="106.5" font-size="29" fill="#111" stroke="#111" stroke-width="0.5">7</text>
<line x1="76.5687850655975" y1="101.31735266377102" x2="276.16987254991614" y2="133.90528531427202" stroke="#111" stroke-width="1.4"/>
<polygon points="289,136 271.6,136.8 272.8,129.7" fill="#111"/>
<ellipse cx="44" cy="189.3" rx="32.8" ry="31.2" fill="none" stroke="#222" stroke-width="1.8"/>
<text x="36.9" y="199.5" font-size="29" fill="#111" stroke="#111" stroke-width="0.5">5</text>
<line x1="76.58052008128686" y1="194.24497008884353" x2="189.5652496649476" y2="212.43379966197074" stroke="#111" stroke-width="1.4"/>
<polygon points="202.4,214.5 185.0,215.4 186.2,208.2" fill="#111"/>
<ellipse cx="44" cy="426.3" rx="32.8" ry="31.2" fill="none" stroke="#222" stroke-width="1.8"/>
<text x="36.9" y="436.5" font-size="29" fill="#111" stroke="#111" stroke-width="0.5">9</text>
<line x1="76.613935108459" y1="420.96698532276866" x2="112.15208616939493" y2="415.48270275163657" stroke="#111" stroke-width="1.4"/>
<polygon points="125,413.5 108.7,419.7 107.6,412.5" fill="#111"/>
<ellipse cx="44" cy="520.3" rx="32.8" ry="31.2" fill="none" stroke="#222" stroke-width="1.8"/>
<text x="36.9" y="530.5" font-size="29" fill="#111" stroke="#111" stroke-width="0.5">3</text>
<line x1="76.29818767223964" y1="513.2304303616265" x2="229.27647152305713" y2="481.16680016057137" stroke="#111" stroke-width="1.4"/>
<polygon points="242,478.5 226.1,485.5 224.6,478.5" fill="#111"/>
<ellipse cx="44" cy="614.5999999999999" rx="32.8" ry="31.2" fill="none" stroke="#222" stroke-width="1.8"/>
<path d="M36.7,624.8 L36.7,608.3 Q34.1,609.0 30.7,610.8 L30.7,608.0 Q35.1,605.8 37.1,603.8 L39.6,603.8 L39.6,624.8 Z" fill="#111"/>
<text x="45.0" y="624.8" font-size="29" fill="#111" stroke="#111" stroke-width="0.5">3</text>
<line x1="74.98799300134893" y1="602.9534459086315" x2="294.79260881765043" y2="522.4698546420542" stroke="#111" stroke-width="1.4"/>
<polygon points="307,518 292.3,527.2 289.8,520.5" fill="#111"/>
<ellipse cx="844" cy="41.3" rx="32.8" ry="31.2" fill="none" stroke="#222" stroke-width="1.8"/>
<path d="M836.7,51.5 L836.7,35.0 Q834.1,35.7 830.7,37.5 L830.7,34.7 Q835.1,32.5 837.1,30.5 L839.6,30.5 L839.6,51.5 Z" fill="#111"/>
<text x="845.0" y="51.5" font-size="29" fill="#111" stroke="#111" stroke-width="0.5">0</text>
<line x1="814.0264292150879" y1="54.805254593880676" x2="614.8077703092079" y2="146.56156637210762" stroke="#111" stroke-width="1.4"/>
<polygon points="603,152 616.9,141.6 619.9,148.2" fill="#111"/>
<ellipse cx="844" cy="135.3" rx="32.8" ry="31.2" fill="none" stroke="#222" stroke-width="1.8"/>
<path d="M844.7,145.5 L844.7,129.0 Q842.1,129.7 838.7,131.5 L838.7,128.7 Q843.1,126.5 845.1,124.5 L847.6,124.5 L847.6,145.5 Z" fill="#111"/>
<line x1="812.7972596664196" y1="145.74192700008504" x2="612.2919886162589" y2="214.76833178784528" stroke="#111" stroke-width="1.4"/>
<polygon points="600,219 614.9,210.1 617.2,216.9" fill="#111"/>
<ellipse cx="844" cy="228.3" rx="32.8" ry="31.2" fill="none" stroke="#222" stroke-width="1.8"/>
<text x="836.9" y="238.5" font-size="29" fill="#111" stroke="#111" stroke-width="0.5">6</text>
<line x1="811.8491391111091" y1="235.437885728027" x2="722.6654906531994" y2="256.0699238041106" stroke="#111" stroke-width="1.4"/>
<polygon points="710,259 725.8,251.7 727.4,258.7" fill="#111"/>
<ellipse cx="844" cy="322.3" rx="32.8" ry="31.2" fill="none" stroke="#222" stroke-width="1.8"/>
<text x="836.9" y="332.5" font-size="29" fill="#111" stroke="#111" stroke-width="0.5">4</text>
<line x1="811.0013573753303" y1="322.2993074160968" x2="636.4994652763851" y2="323.8820910179013" stroke="#111" stroke-width="1.4"/>
<polygon points="623.5,324 640.5,320.2 640.5,327.4" fill="#111"/>
<ellipse cx="844" cy="416.3" rx="32.8" ry="31.2" fill="none" stroke="#222" stroke-width="1.8"/>
<text x="836.9" y="426.5" font-size="29" fill="#111" stroke="#111" stroke-width="0.5">8</text>
<line x1="811.6901595764193" y1="422.7137330750298" x2="548.728118954744" y2="477.3551960613519" stroke="#111" stroke-width="1.4"/>
<polygon points="536,480 551.9,473.0 553.4,480.1" fill="#111"/>
<ellipse cx="844" cy="510.3" rx="32.8" ry="31.2" fill="none" stroke="#222" stroke-width="1.8"/>
<text x="836.9" y="520.5" font-size="29" fill="#111" stroke="#111" stroke-width="0.5">2</text>
<line x1="811.0898986307892" y1="512.4341790953558" x2="518.964585387871" y2="534.0410809624356" stroke="#111" stroke-width="1.4"/>
<polygon points="506,535 522.7,530.2 523.2,537.3" fill="#111"/>
<ellipse cx="844" cy="603.3" rx="32.8" ry="31.2" fill="none" stroke="#222" stroke-width="1.8"/>
<path d="M836.7,613.5 L836.7,597.0 Q834.1,597.7 830.7,599.5 L830.7,596.7 Q835.1,594.5 837.1,592.5 L839.6,592.5 L839.6,613.5 Z" fill="#111"/>
<text x="845.0" y="613.5" font-size="29" fill="#111" stroke="#111" stroke-width="0.5">2</text>
<line x1="811.0161014891264" y1="601.9692531715352" x2="536.993656989132" y2="593.4060517809104" stroke="#111" stroke-width="1.4"/>
<polygon points="524,593 541.1,589.9 540.9,597.1" fill="#111"/>
<ellipse cx="844" cy="697.3" rx="32.8" ry="31.2" fill="none" stroke="#222" stroke-width="1.8"/>
<path d="M836.7,707.5 L836.7,691.0 Q834.1,691.7 830.7,693.5 L830.7,690.7 Q835.1,688.5 837.1,686.5 L839.6,686.5 L839.6,707.5 Z" fill="#111"/>
<path d="M852.8,707.5 L852.8,691.0 Q850.2,691.7 846.8,693.5 L846.8,690.7 Q851.2,688.5 853.2,686.5 L855.7,686.5 L855.7,707.5 Z" fill="#111"/>
<line x1="811.3166384529388" y1="692.4395309469216" x2="555.8752636397513" y2="656.796548414849" stroke="#111" stroke-width="1.4"/>
<polygon points="543,655 560.3,653.8 559.3,660.9" fill="#111"/>
</svg>
</body></html>
